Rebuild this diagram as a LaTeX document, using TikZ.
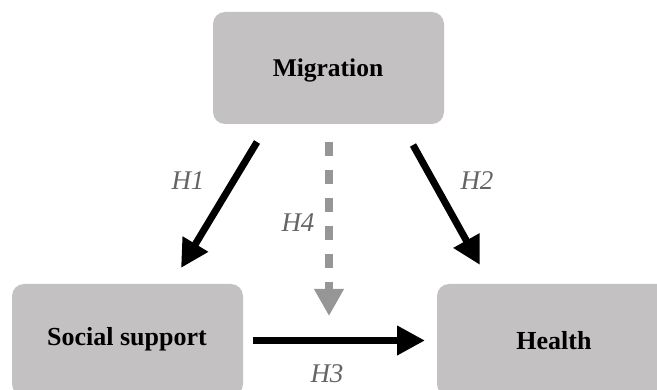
\documentclass[tikz,border=0pt]{standalone}
\usepackage{fontspec}
\setmainfont{Liberation Serif}
\usetikzlibrary{arrows.meta}
\definecolor{boxgray}{RGB}{195,193,194}
\definecolor{labgray}{RGB}{100,100,100}
\definecolor{dashgray}{RGB}{150,150,150}
\tikzset{
  box/.style={fill=boxgray, draw=none, rounded corners=12pt, inner sep=0pt},
  boxtext/.style={anchor=base, font=\bfseries\fontsize{26}{30}\selectfont, inner sep=0pt},
  hlabel/.style={anchor=base, font=\itshape\fontsize{27}{30}\selectfont, text=labgray, inner sep=0pt},
  solidarrow/.style={line width=7pt, -{Triangle[length=28pt,width=28pt]}},
  dasharrow/.style={line width=8pt, draw=dashgray, dash pattern=on 14pt off 14pt, -{Triangle[length=27pt,width=28pt]}}
}
\begin{document}
\begin{tikzpicture}[x=1pt,y=-1pt]
\useasboundingbox (0,0) rectangle (657,390);
\clip (0,0) rectangle (657,390);
% boxes
\node[box, minimum width=231pt, minimum height=112pt] (mig) at (328.5,68) {};
\node[box, minimum width=231pt, minimum height=112pt] (soc) at (127.5,340) {};
\node[box, minimum width=233pt, minimum height=112pt] (hea) at (553.5,340) {};
% texts
\node[boxtext, font=\bfseries\fontsize{25.5}{30}\selectfont] (migt) at (328,77) {Migration};
\node[boxtext] (soct) at (127,346) {Social support};
\node[boxtext] (heat) at (554,350) {Health};
% arrow end points
\coordinate (h1s) at (257,142);
\coordinate (h1e) at (181,268);
\coordinate (h2s) at (413,145);
\coordinate (h2e) at (480,265);
\coordinate (h4s) at (329,142);
\coordinate (h4e) at (329,316);
\coordinate (h3s) at (253,340.5);
\coordinate (h3e) at (425,340.5);
% arrows
\draw[solidarrow] (h1s) -- (h1e);
\draw[solidarrow] (h2s) -- (h2e);
\draw[dasharrow] (h4s) -- (h4e);
\draw[solidarrow] (h3s) -- (h3e);
% labels
\node[hlabel] (l1) at (188,190) {H1};
\node[hlabel] (l2) at (477,190) {H2};
\node[hlabel] (l4) at (298,232) {H4};
\node[hlabel] (l3) at (327,383) {H3};
\end{tikzpicture}
\end{document}
